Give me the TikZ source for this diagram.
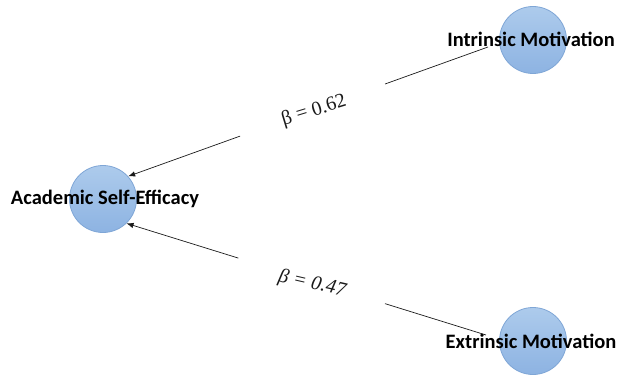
\documentclass[tikz,border=0pt]{standalone}
\usepackage{fontspec}
\setmainfont{Liberation Serif}
\newfontfamily\varfont{Carlito}
\usepackage{xcolor}
\definecolor{bubbletop}{HTML}{ADCBEC}
\definecolor{bubblebot}{HTML}{8DB3E2}
\definecolor{bubbleedge}{HTML}{7FA6D6}
\definecolor{ink}{HTML}{1A1A1A}
\usetikzlibrary{arrows.meta,positioning,calc}

\begin{document}
\begin{tikzpicture}[
		x=1pt, y=-1pt,
		>={Latex[length=7pt,width=5.5pt]},
		bubble/.style={circle, minimum size=67pt, inner sep=0pt, draw=bubbleedge,
			line width=0.8pt, top color=bubbletop, bottom color=bubblebot},
		varname/.style={font=\varfont\bfseries\fontsize{20.5}{22}\selectfont, text=black},
		path/.style={ink, line width=0.7pt},
		coef/.style={inner sep=0pt, font=\rmfamily\fontsize{20}{22}\selectfont, text=ink}
	]
	\useasboundingbox (0,0) rectangle (620,377);

	% latent variables
	\node[bubble] (ase) at (103,199) {};
	\node[bubble] (im) at (533,40) {};
	\node[bubble] (em) at (533,341) {};

	\node[varname] (aseText) at (105,199) {Academic Self-Efficacy};
	\node[varname] (imText) at (531,39) {Intrinsic Motivation};
	\node[varname] (emText) at (531,341) {Extrinsic Motivation};

	% tails of the paths
	\coordinate (imTail) at (488,47);
	\coordinate (emTail) at (486,335);

	% paths, broken where the coefficient sits
	\draw[path] (imTail) -- ($(imTail)!0.286!(ase.42)$);
	\draw[path, ->] ($(imTail)!0.689!(ase.42)$) -- (ase.42);
	\node[coef, rotate=17] (betaIm) at (314,111) {β = 0.62};

	\draw[path] (emTail) -- ($(emTail)!0.281!(ase.-46)$);
	\draw[path, ->] ($(emTail)!0.689!(ase.-46)$) -- (ase.-46);
	\node[coef, rotate=-13, font=\rmfamily\itshape\fontsize{20}{22}\selectfont] (betaEm) at (312,284) {β = 0.47};
\end{tikzpicture}
\end{document}
